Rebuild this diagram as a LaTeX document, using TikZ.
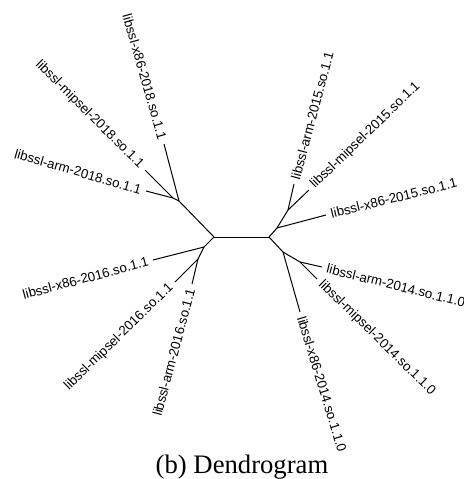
\documentclass[tikz,border=0pt]{standalone}
\usepackage{fontspec}
\setmainfont{Liberation Serif}
\newfontfamily\labfont{Liberation Sans}
\begin{document}
\begin{tikzpicture}[x=0.75pt,y=-0.75pt,
  edge/.style={line width=0.75pt, draw=black},
  lab/.style={inner xsep=3.6pt, inner ysep=0pt, font=\labfont\fontsize{10}{12}\selectfont},
  leftlab/.style={lab, anchor=east},
  rightlab/.style={lab, anchor=west}]
\useasboundingbox (0,0) rectangle (464,479);
% internal nodes
\coordinate (L) at (214,237);
\coordinate (R) at (269,237);
\coordinate (LU) at (179,201);
\coordinate (LUU) at (173,198);
\coordinate (LD) at (204,247);
\coordinate (LDD) at (198,259);
\coordinate (RU) at (277,228);
\coordinate (RUU) at (288,210);
\coordinate (RD) at (283,252);
\coordinate (RDD) at (300,262);
% tips
\coordinate (t1) at (164,144);
\coordinate (t2) at (145,170);
\coordinate (t3) at (146,191);
\coordinate (t4) at (153,260);
\coordinate (t5) at (175,282);
\coordinate (t6) at (192,284);
\coordinate (t7) at (294,184);
\coordinate (t8) at (309,190);
\coordinate (t9) at (326,215);
\coordinate (t10) at (322,267);
\coordinate (t11) at (317,279);
\coordinate (t12) at (300,312);
% edges
\draw[edge] (L) -- (R);
\draw[edge] (L) -- (LU);
\draw[edge] (LU) -- (t1);
\draw[edge] (LU) -- (LUU);
\draw[edge] (LUU) -- (t2);
\draw[edge] (LUU) -- (t3);
\draw[edge] (L) -- (LD);
\draw[edge] (LD) -- (t4);
\draw[edge] (LD) -- (LDD);
\draw[edge] (LDD) -- (t5);
\draw[edge] (LDD) -- (t6);
\draw[edge] (R) -- (RU);
\draw[edge] (RU) -- (t9);
\draw[edge] (RU) -- (RUU);
\draw[edge] (RUU) -- (t7);
\draw[edge] (RUU) -- (t8);
\draw[edge] (R) -- (RD);
\draw[edge] (RD) -- (t12);
\draw[edge] (RD) -- (RDD);
\draw[edge] (RDD) -- (t10);
\draw[edge] (RDD) -- (t11);
% labels
\node[leftlab, rotate=-74] (n1) at (t1) {libssl-x86-2018.so.1.1};
\node[leftlab, rotate=-45] (n2) at (t2) {libssl-mipsel-2018.so.1.1};
\node[leftlab, rotate=-16] (n3) at (t3) {libssl-arm-2018.so.1.1};
\node[leftlab, rotate=15] (n4) at (t4) {libssl-x86-2016.so.1.1};
\node[leftlab, rotate=44.5] (n5) at (t5) {libssl-mipsel-2016.so.1.1};
\node[leftlab, rotate=75] (n6) at (t6) {libssl-arm-2016.so.1.1};
\node[rightlab, rotate=75] (n7) at (t7) {libssl-arm-2015.so.1.1};
\node[rightlab, rotate=44] (n8) at (t8) {libssl-mipsel-2015.so.1.1};
\node[rightlab, rotate=14] (n9) at (t9) {libssl-x86-2015.so.1.1};
\node[rightlab, rotate=-14] (n10) at (t10) {libssl-arm-2014.so.1.1.0};
\node[rightlab, rotate=-44.5] (n11) at (t11) {libssl-mipsel-2014.so.1.1.0};
\node[rightlab, rotate=-73] (n12) at (t12) {libssl-x86-2014.so.1.1.0};
% caption
\node[anchor=base, inner sep=0pt, font=\fontsize{20}{24}\selectfont] (cap) at (242,473) {(b) Dendrogram};
\end{tikzpicture}
\end{document}
